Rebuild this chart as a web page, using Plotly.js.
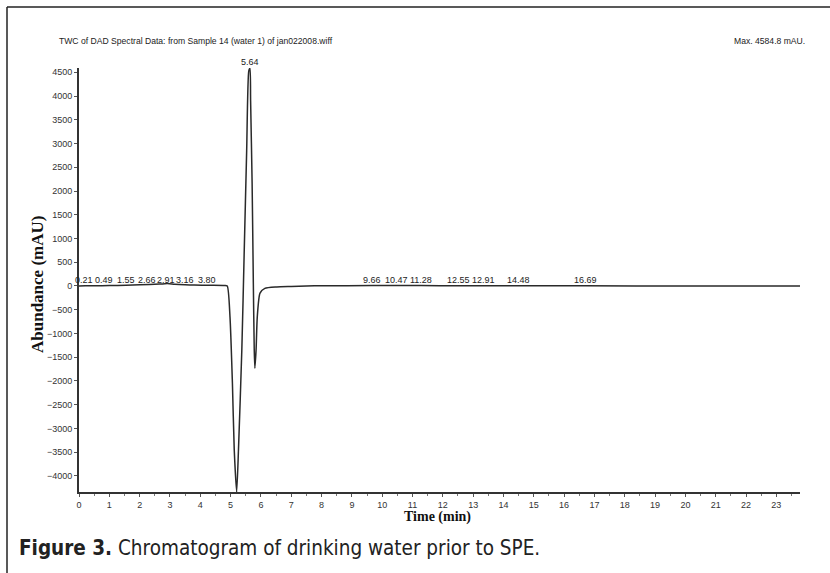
<!DOCTYPE html>
<html>
<head>
<meta charset="utf-8">
<script src="https://cdn.plot.ly/plotly-3.0.1.min.js"></script>
<style>
  html, body { margin: 0; padding: 0; background: #fff; }
  #chart { width: 830px; height: 573px; }
</style>
</head>
<body>
<div id="chart"></div>
<script>
// Chromatogram trace (time in min, abundance in mAU)
const timeMin = [0, 0.21, 0.49, 1.0, 1.55, 2.0, 2.66, 2.91, 3.16, 3.5, 3.80, 4.3, 4.8, 4.89,
  4.98, 5.06, 5.12, 5.20, 5.26, 5.37, 5.45, 5.53, 5.60, 5.64, 5.66, 5.71, 5.75, 5.78, 5.80,
  5.84, 5.88, 5.97, 6.13, 6.52, 7.0, 7.5, 8.0, 9.66, 10.47, 11.28, 12.55, 12.91, 14.48, 16.69, 20.0, 23.78];
const abundance = [0, 5, 5, 10, 15, 25, 40, 50, 35, 25, 20, 15, 10, 0,
  -650, -2050, -3450, -4338, -3450, -1350, 750, 2850, 4530, 4584.8, 3900, 2160, 50, -1350, -1730,
  -1350, -650, -150, -50, -20, -10, 0, 5, 8, 8, 8, 5, 5, 5, 3, 0, 0];

// Peak labels: retention time, label shift (px) as printed
const peakTimes = [0.21, 0.49, 1.55, 2.66, 2.91, 3.16, 3.80, 9.66, 10.47, 11.28, 12.55, 12.91, 14.48, 16.69];
const peakLabels = ["0.21", "0.49", "1.55", "2.66", "2.91", "3.16", "3.80", "9.66", "10.47", "11.28", "12.55", "12.91", "14.48", "16.69"];
const peakShift = [-1, 10, 0, -13, -1, 10, 13, 0, 0, 0, -1, 13, 0, 0];
const mainPeak = {t: 5.64, v: 4584.8, label: "5.64"};

const titleText = "TWC of DAD Spectral Data: from Sample 14 (water 1) of jan022008.wiff";
const maxText = "Max. 4584.8 mAU.";
const xTitle = "Time (min)";
const yTitle = "Abundance (mAU)";
const caption = "<b>Figure 3.</b> Chromatogram of drinking water prior to SPE.";

const L = 79, R = 800, T = 68, B = 492, W = 830, H = 573;
const px = x => (x - L) / (R - L);
const py = y => (B - y) / (B - T);

const sans = "Liberation Sans, Arial, sans-serif";
const serif = "Liberation Serif, Times New Roman, serif";

const annotations = peakTimes.map((t, i) => ({
  x: t, y: 0, xref: 'x', yref: 'y', text: peakLabels[i], showarrow: false,
  xanchor: 'center', yanchor: 'bottom', xshift: peakShift[i], yshift: -1,
  font: {family: sans, size: 9, color: '#222'}
}));
annotations.push({x: mainPeak.t, y: mainPeak.v, xref: 'x', yref: 'y', text: mainPeak.label,
  showarrow: false, xanchor: 'center', yanchor: 'bottom', yshift: -1,
  font: {family: sans, size: 9, color: '#222'}});
annotations.push({x: px(57), y: py(41), xref: 'paper', yref: 'paper', text: titleText,
  showarrow: false, xanchor: 'left', yanchor: 'middle', font: {family: sans, size: 8.6, color: '#222'}});
annotations.push({x: px(807), y: py(41), xref: 'paper', yref: 'paper', text: maxText,
  showarrow: false, xanchor: 'right', yanchor: 'middle', font: {family: sans, size: 8.6, color: '#222'}});
annotations.push({x: px(37), y: py(285), xref: 'paper', yref: 'paper', text: '<b>' + yTitle + '</b>',
  textangle: -90, showarrow: false, xanchor: 'center', yanchor: 'middle',
  font: {family: serif, size: 17, color: '#111'}});
annotations.push({x: px(437), y: py(517), xref: 'paper', yref: 'paper', text: '<b>' + xTitle + '</b>',
  showarrow: false, xanchor: 'center', yanchor: 'middle', font: {family: serif, size: 14, color: '#111'}});
annotations.push({x: px(17), y: py(548), xref: 'paper', yref: 'paper', text: caption,
  showarrow: false, xanchor: 'left', yanchor: 'middle',
  font: {family: "DejaVu Sans Condensed, Liberation Sans Narrow, sans-serif", size: 20.5, color: '#222'}});

const trace = {
  x: timeMin, y: abundance, type: 'scatter', mode: 'lines',
  line: {color: '#2a2a2a', width: 1.5, shape: 'spline', smoothing: 0.6},
  hoverinfo: 'skip'
};

const layout = {
  width: W, height: H,
  margin: {l: L, r: W - R, t: T, b: H - B, pad: 0},
  paper_bgcolor: '#fff', plot_bgcolor: '#fff',
  showlegend: false,
  xaxis: {
    range: [0, 23.78], dtick: 1, tick0: 0, showgrid: false, zeroline: false,
    showline: true, linecolor: '#333', linewidth: 2,
    ticks: 'outside', ticklen: 3, tickwidth: 1, tickcolor: '#555',
    minor: {dtick: 0.5, ticks: 'outside', ticklen: 2, tickcolor: '#777', showgrid: false},
    tickfont: {family: sans, size: 9, color: '#333'}
  },
  yaxis: {
    range: [-4338, 4590], dtick: 500, tick0: 0, showgrid: false, zeroline: false,
    showline: true, linecolor: '#333', linewidth: 2,
    ticks: 'outside', ticklen: 3, tickwidth: 1, tickcolor: '#555',
    tickfont: {family: sans, size: 9, color: '#333'}
  },
  annotations: annotations,
  shapes: [
    {type: 'line', xref: 'paper', yref: 'paper', x0: px(7), x1: px(830), y0: py(7), y1: py(7), line: {color: '#222', width: 1.5}},
    {type: 'line', xref: 'paper', yref: 'paper', x0: px(7), x1: px(7), y0: py(7), y1: py(573), line: {color: '#222', width: 1.5}}
  ]
};

Plotly.newPlot('chart', [trace], layout, {staticPlot: true, displayModeBar: false});
</script>
</body>
</html>
